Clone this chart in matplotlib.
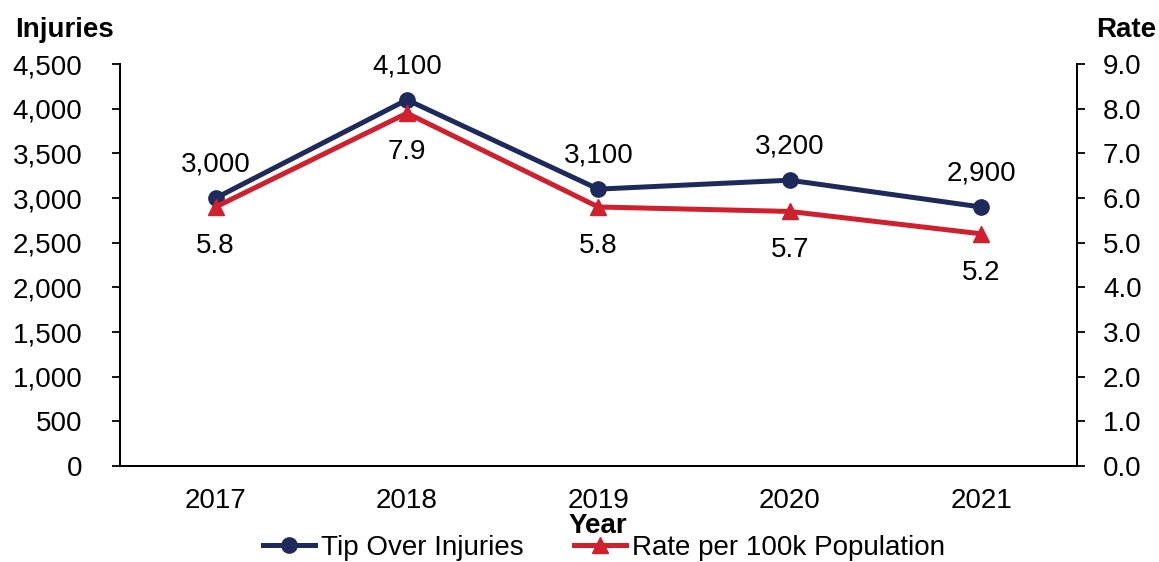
import matplotlib.pyplot as plt
from matplotlib.ticker import FuncFormatter

plt.rcParams['font.family'] = ['Liberation Sans', 'DejaVu Sans']

years = ['2017', '2018', '2019', '2020', '2021']
injuries = [3000, 4100, 3100, 3200, 2900]
rates = [5.8, 7.9, 5.8, 5.7, 5.2]

navy = '#1f2a5c'
red = '#d0202e'
fs = 20

fig = plt.figure(figsize=(11.59, 5.62), dpi=100)
ax = fig.add_axes([0.1035, 0.1708, 0.8255, 0.7152])
ax2 = ax.twinx()

x = list(range(len(years)))
l1, = ax.plot(x, injuries, color=navy, lw=3.6, marker='o', ms=11, label='Tip Over Injuries', zorder=3)
l2, = ax2.plot(x, rates, color=red, lw=3.6, marker='^', ms=11, label='Rate per 100k Population', zorder=3)

for xi, v in zip(x, injuries):
    ax.annotate(f'{v:,}', (xi, v), xytext=(0, 24), textcoords='offset points',
                ha='center', va='center', fontsize=fs)
for xi, v in zip(x, rates):
    ax2.annotate(f'{v:.1f}', (xi, v), xytext=(0, -28), textcoords='offset points',
                 ha='center', va='center', fontsize=fs)

ax.set_xlim(-0.5, 4.5)
ax.set_ylim(0, 4500)
ax.set_yticks(range(0, 4501, 500))
ax.yaxis.set_major_formatter(FuncFormatter(lambda v, p: f'{int(v):,}'))
ax2.set_ylim(0, 9)
ax2.set_yticks(range(0, 10))
ax2.yaxis.set_major_formatter(FuncFormatter(lambda v, p: f'{v:.1f}'))

ax.set_xticks(x)
ax.set_xticklabels(years)
ax.tick_params(axis='x', length=0, pad=16, labelsize=fs)
ax.tick_params(axis='y', length=6, width=1.3, pad=21, labelsize=fs, direction='out')
ax2.tick_params(axis='y', length=6, width=1.3, pad=13, labelsize=fs, direction='out')

for a in (ax, ax2):
    a.spines['top'].set_visible(False)
    for s in ('left', 'right', 'bottom'):
        a.spines[s].set_linewidth(1.3)

fig.text(0.013, 0.947, 'Injuries', fontsize=fs, fontweight='bold', ha='left', va='center')
fig.text(0.998, 0.947, 'Rate', fontsize=fs, fontweight='bold', ha='right', va='center')
fig.text(0.516, 0.064, 'Year', fontsize=fs, fontweight='bold', ha='center', va='center')

fig.legend(handles=[l1, l2], loc='center', bbox_to_anchor=(0.521, 0.025), ncol=2,
           frameon=False, fontsize=fs, handlelength=1.9, handletextpad=0.2,
           columnspacing=1.8, borderpad=0)

fig.savefig('out.png', dpi=100)
